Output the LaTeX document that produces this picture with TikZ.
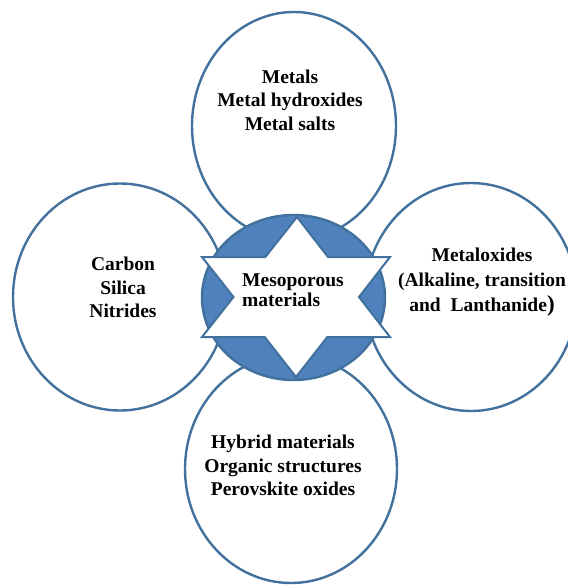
\documentclass[tikz,border=0pt]{standalone}
\usepackage{fontspec}
\setmainfont{Liberation Serif}
\usetikzlibrary{shapes.geometric}
\definecolor{ofill}{HTML}{4F81BD}
\definecolor{oline}{HTML}{41719C}
\tikzset{
  bubble/.style={ellipse, draw=oline, line width=2.4pt, fill=white, inner sep=0pt},
  hub/.style={ellipse, draw=oline, line width=2.4pt, fill=ofill, inner sep=0pt},
  label/.style={font=\fontsize{19.5}{23.5}\selectfont\bfseries, align=center, text=black, inner sep=0pt},
}
\begin{document}
\begin{tikzpicture}[x=1pt,y=-1pt]
\useasboundingbox (0,0) rectangle (567,585);
% outer circles
\node[bubble, minimum width=204pt, minimum height=228pt] (top) at (294,126) {};
\node[bubble, minimum width=214pt, minimum height=227pt] (left) at (120,297) {};
\node[bubble, minimum width=212pt, minimum height=228pt] (right) at (471,297) {};
\node[bubble, minimum width=212pt, minimum height=228pt] (bottom) at (291,469) {};
% centre
\node[hub, minimum width=183pt, minimum height=165pt] (hub) at (293.5,297.5) {};
% star
\coordinate (sT) at (297,217);
\coordinate (sB) at (296,377);
\coordinate (sUL) at (202,257);
\coordinate (sUR) at (390,257);
\coordinate (sLL) at (202,337);
\coordinate (sLR) at (390,337);
\coordinate (nL) at (233.5,297);
\coordinate (nR) at (359,297);
\draw[oline, line width=2pt, fill=white, line join=miter]
  (sT) -- (265.3,257) -- (sUL) -- (nL) -- (sLL) -- (264.7,337) -- (sB) -- (327.3,337) -- (sLR) -- (nR) -- (sUR) -- (328,257) -- cycle;
% texts
\node[label] (ttop) at (290,100) {Metals\\Metal hydroxides\\Metal salts};
\node[label] (tleft) at (123,287.5) {Carbon\\Silica\\Nitrides};
\node[label, font=\fontsize{19.5}{25}\selectfont\bfseries] (tright) at (482,282) {Metaloxides\\(Alkaline, transition\\and~~Lanthanide{\fontsize{23}{25}\selectfont)}};
\node[label] (tbottom) at (283,465.5) {Hybrid materials\\Organic structures\\Perovskite oxides};
\node[label, align=left, anchor=west, font=\fontsize{19.5}{20.5}\selectfont\bfseries] (thub) at (242,290) {Mesoporous\\materials};
\end{tikzpicture}
\end{document}
